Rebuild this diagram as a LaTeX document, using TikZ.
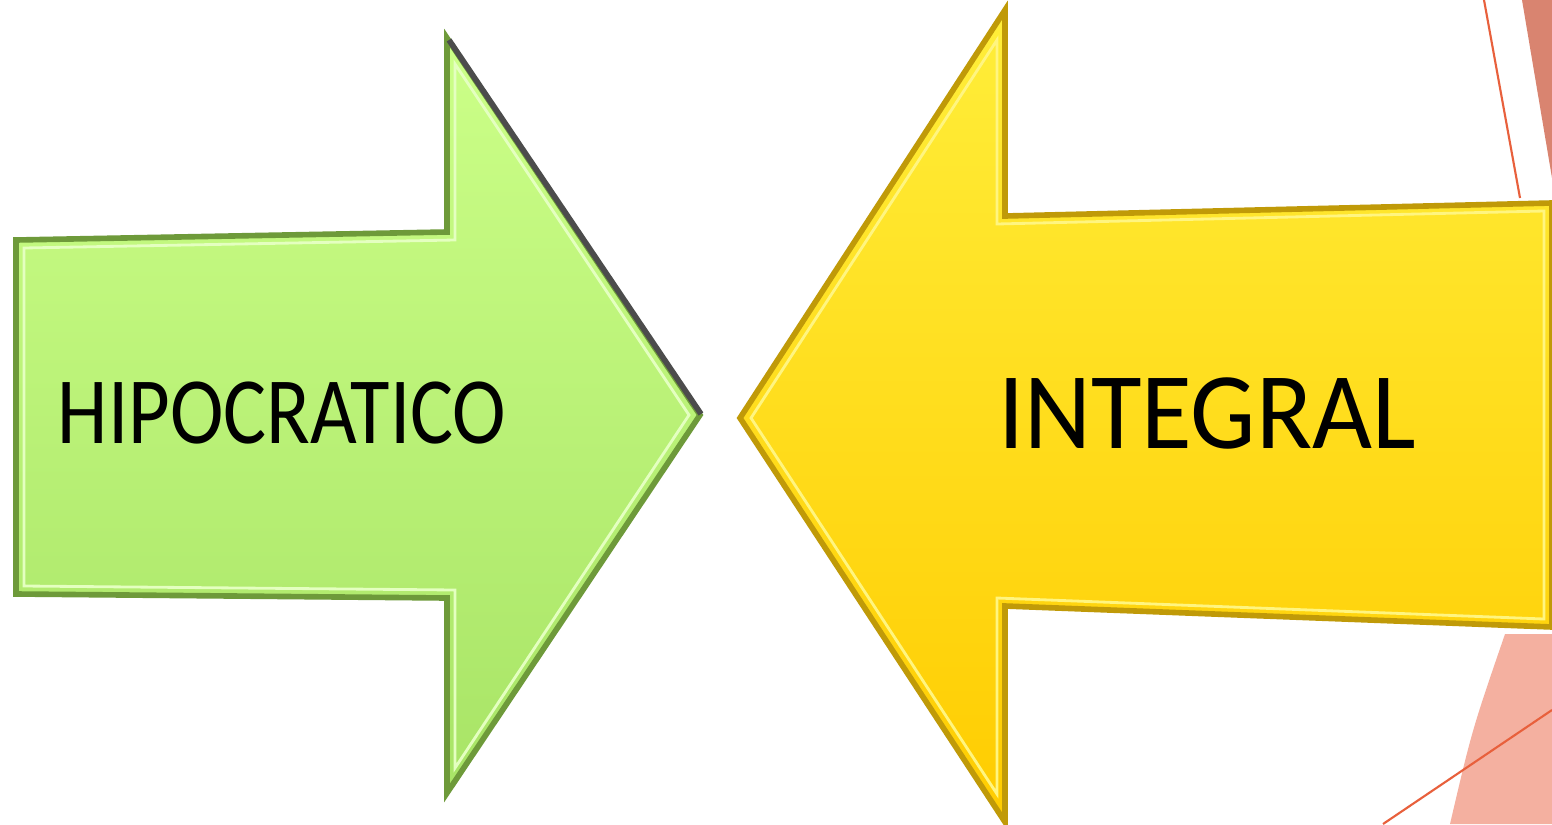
\documentclass[tikz,border=0pt]{standalone}
\usepackage{fontspec}
\setmainfont{Carlito}
\definecolor{grnTop}{HTML}{CCFF88}
\definecolor{grnBot}{HTML}{A8E466}
\definecolor{grnEdge}{HTML}{6E9A3A}
\definecolor{grnHi}{HTML}{E4FFC0}
\definecolor{ylwTop}{HTML}{FFEE3A}
\definecolor{ylwBot}{HTML}{FFCC00}
\definecolor{ylwEdge}{HTML}{C09A08}
\definecolor{ylwHi}{HTML}{FFF580}
\definecolor{redLine}{HTML}{E8603C}
\definecolor{redTop}{HTML}{D98470}
\definecolor{redBot}{HTML}{F4B0A0}
\tikzset{
  grnarrow/.style={top color=grnTop, bottom color=grnBot, draw=grnEdge, line width=1.6pt, line join=miter},
  grninner/.style={draw=grnHi, line width=0.8pt, line join=miter},
  ylwarrow/.style={top color=ylwTop, bottom color=ylwBot, draw=ylwEdge, line width=1.6pt, line join=miter},
  ylwinner/.style={draw=ylwHi, line width=0.8pt, line join=miter},
  label/.style={font=\fontsize{27}{30}\selectfont, text=black, inner sep=0pt, xscale=0.85},
  biglabel/.style={font=\fontsize{31}{34}\selectfont, text=black, inner sep=0pt, xscale=0.95},
  deco/.style={draw=redLine, line width=0.6pt}
}
\begin{document}
\begin{tikzpicture}[x=0.01cm,y=-0.01cm]
\useasboundingbox[fill=white] (0,0) rectangle (1552,824);
% decorations at right
\fill[redTop] (1522,0) -- (1552,0) -- (1552,178) -- cycle;
\fill[redBot] (1505,634) -- (1552,634) -- (1552,824) -- (1450,824) .. controls (1472,730) .. (1505,634);
\draw[deco] (1484,0) -- (1520,198);
\draw[deco] (1383,824) -- (1552,710);
% green arrow
\path[grnarrow] (16,240) -- (447,232) -- (447,38) -- (700,415) -- (447,793) -- (447,598) -- (16,594) -- cycle;
\path[grninner] (24,248) -- (455,240) -- (455,64) -- (689,415) -- (455,768) -- (455,590) -- (24,586) -- cycle;
\draw[black!70, line width=1.6pt] (449,40) -- (701,414);
% yellow arrow
\path[ylwarrow] (740,418) -- (1005,10) -- (1005,216) -- (1552,203) -- (1552,627) -- (1005,606) -- (1005,822) -- cycle;
\path[ylwinner] (751,418) -- (997,40) -- (997,224) -- (1544,211) -- (1544,619) -- (997,598) -- (997,794) -- cycle;
% labels
\node[label] (hip) at (282,413) {HIPOCRATICO};
\node[biglabel] (int) at (1207,413) {INTEGRAL};
\end{tikzpicture}
\end{document}
